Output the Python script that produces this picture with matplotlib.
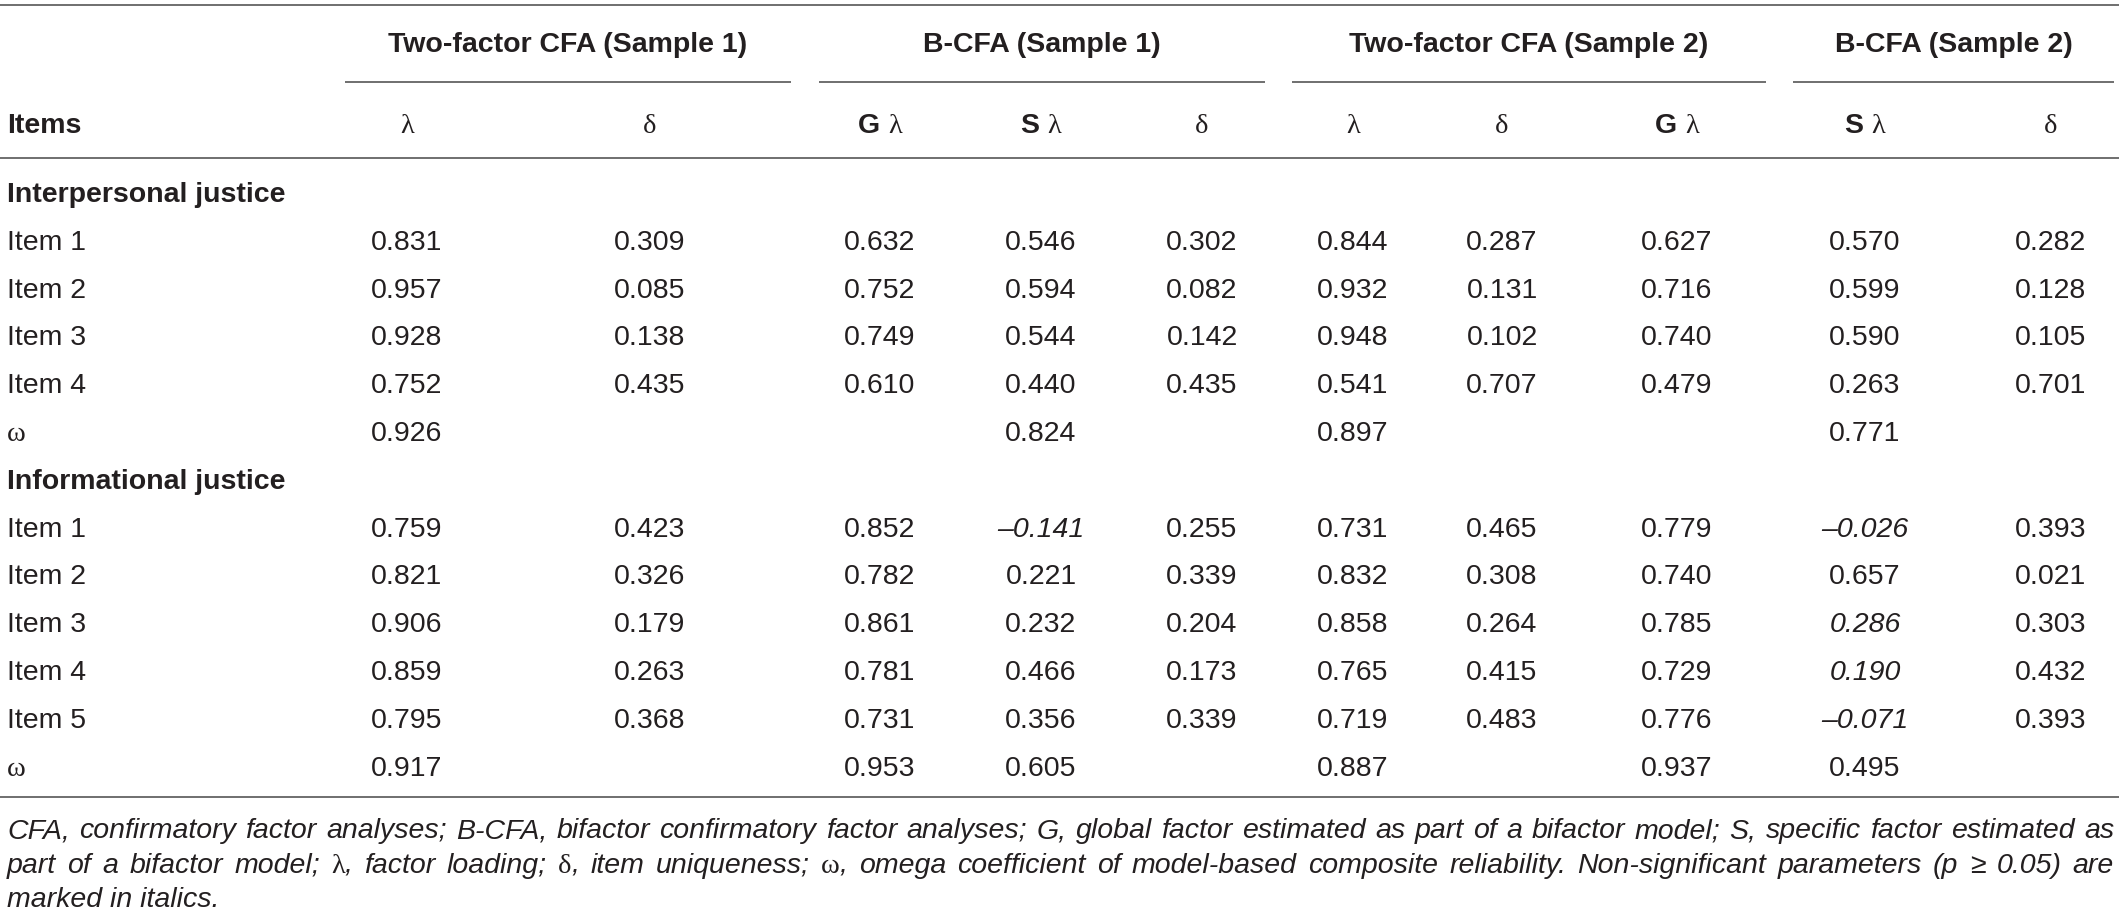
import matplotlib.pyplot as plt

# 字体：正文无衬线，希腊字母用衬线体
SANS = ["Liberation Sans", "DejaVu Sans"]
SERIF = ["Liberation Serif", "DejaVu Serif"]
plt.rcParams["font.family"] = SANS

# ---- 表格数据 ----
spanners = ["Two-factor CFA (Sample 1)", "B-CFA (Sample 1)",
            "Two-factor CFA (Sample 2)", "B-CFA (Sample 2)"]
# 表头: (粗体前缀, 希腊字母)
col_heads = [("", "λ"), ("", "δ"), ("G ", "λ"), ("S ", "λ"), ("", "δ"),
             ("", "λ"), ("", "δ"), ("G ", "λ"), ("S ", "λ"), ("", "δ")]

sections = ["Interpersonal justice", "Informational justice"]
interpersonal_items = ["Item 1", "Item 2", "Item 3", "Item 4", "ω"]
interpersonal_vals = [
    ["0.831", "0.309", "0.632", "0.546", "0.302", "0.844", "0.287", "0.627", "0.570", "0.282"],
    ["0.957", "0.085", "0.752", "0.594", "0.082", "0.932", "0.131", "0.716", "0.599", "0.128"],
    ["0.928", "0.138", "0.749", "0.544", "0.142", "0.948", "0.102", "0.740", "0.590", "0.105"],
    ["0.752", "0.435", "0.610", "0.440", "0.435", "0.541", "0.707", "0.479", "0.263", "0.701"],
    ["0.926", "", "", "0.824", "", "0.897", "", "", "0.771", ""],
]
informational_items = ["Item 1", "Item 2", "Item 3", "Item 4", "Item 5", "ω"]
informational_vals = [
    ["0.759", "0.423", "0.852", "–0.141", "0.255", "0.731", "0.465", "0.779", "–0.026", "0.393"],
    ["0.821", "0.326", "0.782", "0.221", "0.339", "0.832", "0.308", "0.740", "0.657", "0.021"],
    ["0.906", "0.179", "0.861", "0.232", "0.204", "0.858", "0.264", "0.785", "0.286", "0.303"],
    ["0.859", "0.263", "0.781", "0.466", "0.173", "0.765", "0.415", "0.729", "0.190", "0.432"],
    ["0.795", "0.368", "0.731", "0.356", "0.339", "0.719", "0.483", "0.776", "–0.071", "0.393"],
    ["0.917", "", "0.953", "0.605", "", "0.887", "", "0.937", "0.495", ""],
]
# 不显著参数（斜体）: (行, 列)
interpersonal_italic = []
informational_italic = [(0, 3), (0, 8), (2, 8), (3, 8), (4, 8)]

footnote_lines = [
    "CFA, confirmatory factor analyses; B-CFA, bifactor confirmatory factor analyses; "
    "G, global factor estimated as part of a bifactor model; S, specific factor estimated as",
    "part of a bifactor model; λ, factor loading; δ, item uniqueness; ω, omega coefficient "
    "of model-based composite reliability. Non-significant parameters (p ≥ 0.05) are",
    "marked in italics.",
]

# ---- 版式（像素）----
W, H = 2119, 916
col_x = [407, 650, 880, 1041, 1202, 1353, 1502, 1677, 1865, 2051]
span_rng = [(345, 791), (819, 1265), (1292, 1766), (1793, 2114)]
left_x = 7
row0, row_step = 192, 47.8
FS = 20.5
TXT = "#231f20"
LINE = "#6f6f6f"
LW = 1.4

fig = plt.figure(figsize=(W / 100, H / 100), dpi=100)
ax = fig.add_axes([0, 0, 1, 1])
ax.set_xlim(0, W)
ax.set_ylim(H, 0)
ax.axis("off")
renderer = fig.canvas.get_renderer()


def text_width(s, **kw):
    t = ax.text(0, 0, s, fontsize=FS, **kw)
    w = t.get_window_extent(renderer).width
    t.remove()
    return w


def put_runs(x, y, runs, ha="center"):
    # runs: [(文本, 字体参数)] 连续排列
    widths = [text_width(s, **kw) for s, kw in runs]
    start = x - sum(widths) / 2 if ha == "center" else x
    for (s, kw), w in zip(runs, widths):
        ax.text(start, y, s, fontsize=FS, color=TXT, va="baseline", ha="left", **kw)
        start += w


def hline(y, x0=0, x1=W):
    ax.plot([x0, x1], [y, y], color=LINE, lw=LW, solid_capstyle="butt")


# 横线
hline(5)
for x0, x1 in span_rng:
    hline(82, x0, x1)
hline(158)
hline(797)

# 分组表头
for name, (x0, x1) in zip(spanners, span_rng):
    ax.text((x0 + x1) / 2, 52, name, fontsize=FS, fontweight="bold", color=TXT,
            ha="center", va="baseline")

# 列表头
ax.text(left_x, 133, "Items", fontsize=FS, fontweight="bold", color=TXT, va="baseline")
for x, (pre, greek) in zip(col_x, col_heads):
    runs = []
    if pre:
        runs.append((pre, dict(fontweight="bold")))
    runs.append((greek, dict(family=SERIF)))
    put_runs(x, 133, runs)

# 数据行
row = 0
for sec, items, vals, ital in [(sections[0], interpersonal_items, interpersonal_vals, interpersonal_italic),
                               (sections[1], informational_items, informational_vals, informational_italic)]:
    y = row0 + row * row_step + 10
    ax.text(left_x, y, sec, fontsize=FS, fontweight="bold", color=TXT, va="baseline")
    row += 1
    for i, (label, rvals) in enumerate(zip(items, vals)):
        y = row0 + row * row_step + 10
        fam = SERIF if label == "ω" else SANS
        ax.text(left_x, y, label, fontsize=FS, family=fam, color=TXT, va="baseline")
        for j, (x, v) in enumerate(zip(col_x, rvals)):
            if v:
                style = "italic" if (i, j) in ital else "normal"
                ax.text(x, y, v, fontsize=FS, style=style, color=TXT,
                        ha="center", va="baseline")
        row += 1

# 脚注（两端对齐）
foot_y = [838, 873, 907]
for k, line in enumerate(footnote_lines):
    words = []
    for wd in line.split(" "):
        if wd and wd[0] in "λδω":
            words.append([(wd[0], dict(family=SERIF)), (wd[1:], dict(style="italic"))])
        else:
            words.append([(wd, dict(style="italic"))])
    if k < len(footnote_lines) - 1:
        wlist = [sum(text_width(s, **kw) for s, kw in r if s) for r in words]
        gap = (W - 5 - left_x - sum(wlist)) / (len(words) - 1)
        x = left_x
        for r, w in zip(words, wlist):
            put_runs(x, foot_y[k], [(s, kw) for s, kw in r if s], ha="left")
            x += w + gap
    else:
        ax.text(left_x, foot_y[k], line, fontsize=FS, style="italic", color=TXT, va="baseline")

fig.savefig("out.png", dpi=100)
